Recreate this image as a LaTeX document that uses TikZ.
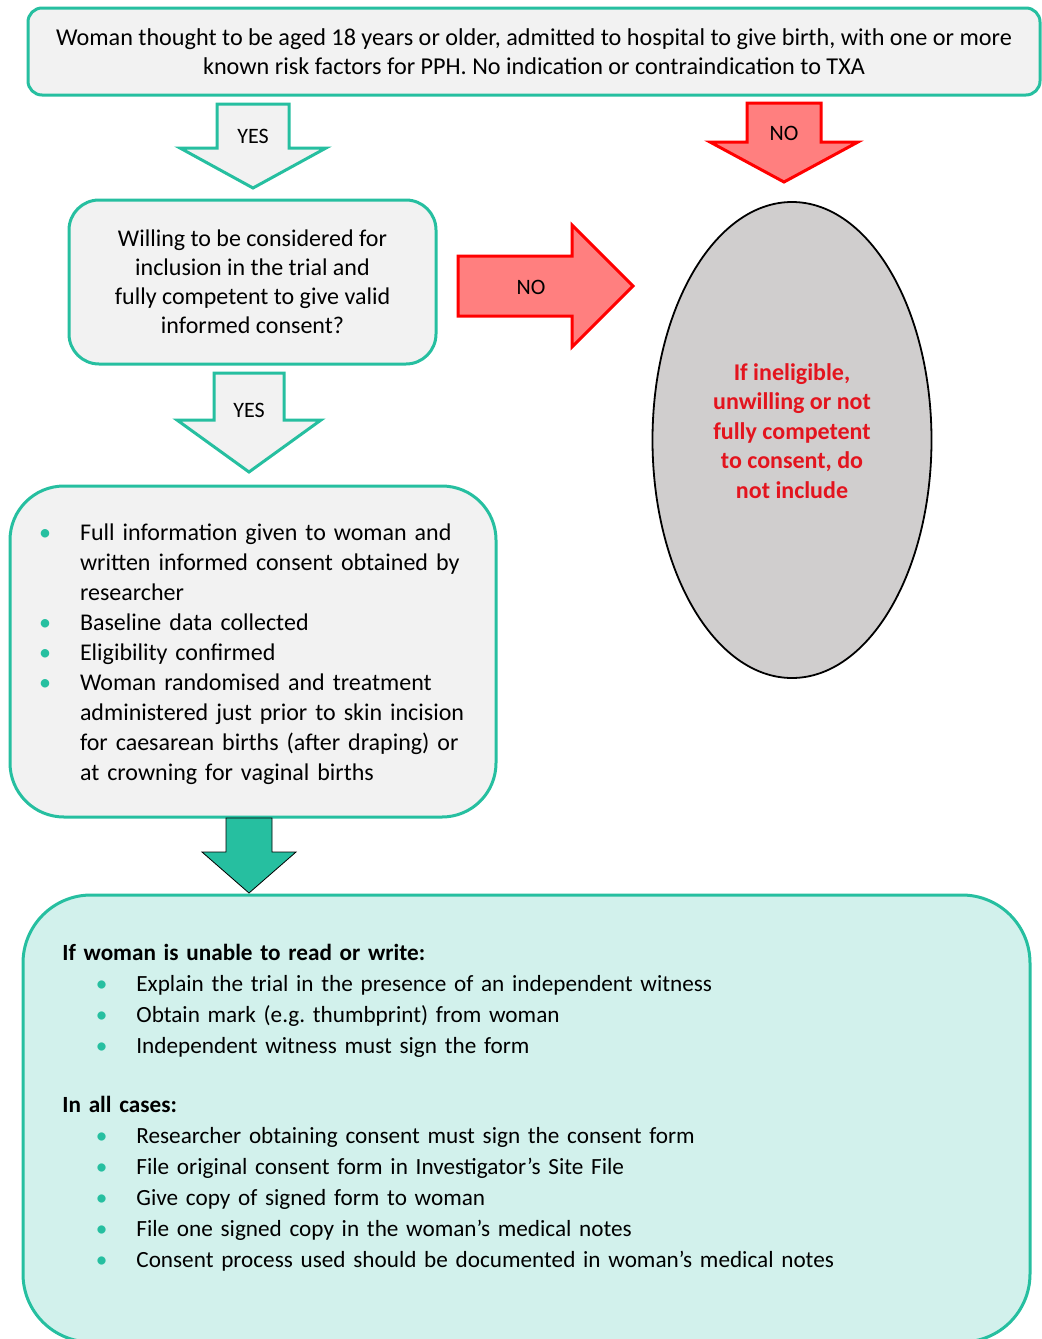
\documentclass[tikz,border=0pt]{standalone}
\usepackage{fontspec}
\setmainfont{Carlito}
\usepackage{xcolor}
\usepackage{enumitem}
\usetikzlibrary{shapes.geometric, positioning}
\definecolor{flowteal}{HTML}{26BFA0}
\definecolor{boxgray}{HTML}{F2F2F2}
\definecolor{lightteal}{HTML}{D2F1EC}
\definecolor{nored}{HTML}{FF0000}
\definecolor{nofill}{HTML}{FF7F7F}
\definecolor{exclgray}{HTML}{D0CECE}
\definecolor{exclred}{HTML}{E3141E}
\tikzstyle{flowbox} = [rectangle, draw=flowteal, fill=boxgray, line width=1.5pt, text=black,
  font=\fontsize{12}{14.5}\selectfont]
\tikzstyle{yesarrow} = [draw=flowteal, fill=boxgray, line width=1.5pt, line join=miter]
\tikzstyle{noarrow} = [draw=nored, fill=nofill, line width=1.5pt, line join=miter]
\tikzstyle{goarrow} = [fill=flowteal]
\tikzstyle{arrowlabel} = [font=\fontsize{11}{13}\selectfont, inner sep=0pt]
\setlist[itemize]{label={\textcolor{flowteal}{\textbullet}}, labelsep=14.5pt, itemsep=0pt,
  topsep=0pt, parsep=0pt, partopsep=0pt}
% block arrows: style, x, top, neck, tip, shaft half width, head half width
\newcommand{\downblock}[7]{\draw[#1] (#2-#6,#3) -- (#2+#6,#3) -- (#2+#6,#4) -- (#2+#7,#4)
  -- (#2,#5) -- (#2-#7,#4) -- (#2-#6,#4) -- cycle;}
\newcommand{\rightblock}[7]{\draw[#1] (#3,#2-#6) -- (#4,#2-#6) -- (#4,#2-#7) -- (#5,#2)
  -- (#4,#2+#7) -- (#4,#2+#6) -- (#3,#2+#6) -- cycle;}

\begin{document}
\begin{tikzpicture}[x=0.5pt, y=-0.5pt]
  \useasboundingbox (0,0) rectangle (1041,1339);

  \node (screen) [flowbox, rounded corners=7pt, minimum width=506pt, minimum height=43.5pt, align=center,
    font=\fontsize{12.1}{14.5}\selectfont]
    at (534,51.5) {Woman thought to be aged 18 years or older, admitted to hospital to give birth, with one or more\\
    known risk factors for PPH. No indication or contraindication to TXA};
  \node (willing) [flowbox, rounded corners=15pt, minimum width=183.5pt, minimum height=82pt, align=center]
    at (252.5,282) {Willing to be considered for\\inclusion in the trial and\\fully competent to give valid\\informed consent?};
  \node (consent) [flowbox, rounded corners=27pt, minimum width=243pt, minimum height=165.5pt, text width=233pt,
    align=left, font=\fontsize{12}{15}\selectfont] at (253,651.5) {\vspace*{-4pt}%
    \begin{itemize}[leftmargin=30pt]
      \item Full information given to woman and\newline written informed consent obtained by\newline researcher
      \item Baseline data collected
      \item Eligibility confirmed
      \item Woman randomised and treatment\newline administered just prior to skin incision\newline
        for caesarean births (after draping) or\newline at crowning for vaginal births
    \end{itemize}};
  \node (exclude) [ellipse, draw=black, fill=exclgray, line width=0.9pt, minimum width=139.5pt, minimum height=238pt]
    at (792,440) {};
  \node (excludetext) [font=\bfseries\fontsize{12}{14.75}\selectfont, text=exclred, align=center, yshift=4.5pt]
    at (exclude.center) {If ineligible,\\unwilling or not\\fully competent\\to consent, do\\not include};
  \node (witness) [flowbox, fill=lightteal, rounded corners=34pt, minimum width=503.5pt, minimum height=223.5pt]
    at (526.5,1118.5) {};
  \node (witnesstext) [anchor=base west, inner sep=0pt, text width=440pt, align=left,
    font=\fontsize{11.6}{15.5}\selectfont] at (62,960) {\textbf{If woman is unable to read or write:}
    \begin{itemize}[leftmargin=37pt]
      \item Explain the trial in the presence of an independent witness
      \item Obtain mark (e.g.\ thumbprint) from woman
      \item Independent witness must sign the form
    \end{itemize}
    \vspace{14pt}
    \textbf{In all cases:}
    \begin{itemize}[leftmargin=37pt]
      \item Researcher obtaining consent must sign the consent form
      \item File original consent form in Investigator’s Site File
      \item Give copy of signed form to woman
      \item File one signed copy in the woman’s medical notes
      \item Consent process used should be documented in woman’s medical notes
    \end{itemize}};

  % arrows between the boxes
  \downblock{yesarrow}{253}{104}{148}{188}{36}{73}
  \node (yes1) [arrowlabel] at (253,136) {YES};
  \downblock{noarrow}{784}{103}{142}{182}{37}{74}
  \node (no1) [arrowlabel] at (784,133) {NO};
  \rightblock{noarrow}{286}{458}{572}{633}{30}{61}
  \node (no2) [arrowlabel] at (531,287) {NO};
  \downblock{yesarrow}{249}{373}{420}{472}{35}{72}
  \node (yes2) [arrowlabel] at (249,410) {YES};
  \downblock{goarrow}{249}{818}{852}{893}{23}{47}
\end{tikzpicture}
\end{document}
